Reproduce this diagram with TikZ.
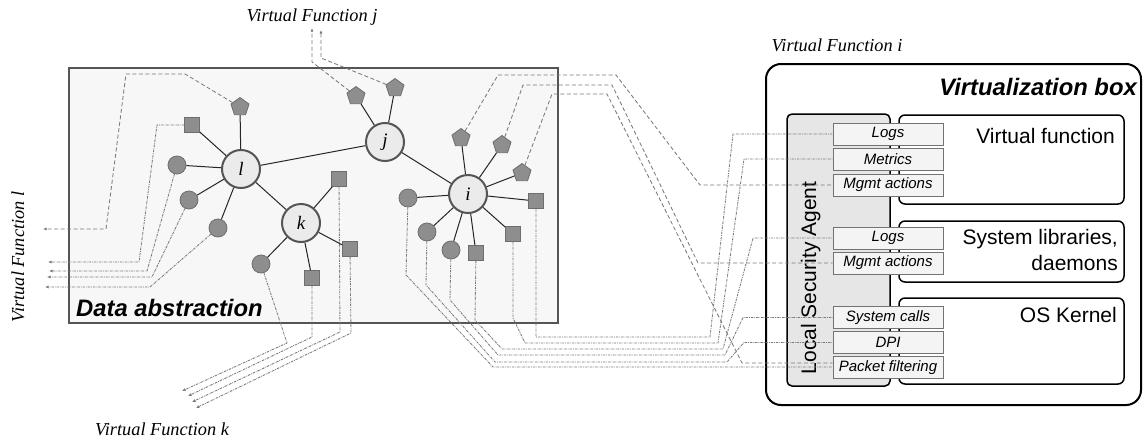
\documentclass[tikz,border=0pt]{standalone}
\usepackage{fontspec}
\setmainfont{Liberation Serif}
\setsansfont{Liberation Sans}
\usetikzlibrary{shapes.geometric,arrows.meta}
\definecolor{leaf}{HTML}{8E8E8E}
\definecolor{leafb}{HTML}{6E6E6E}
\definecolor{hubf}{HTML}{EBEBEB}
\definecolor{hubb}{HTML}{555555}
\definecolor{conn}{HTML}{7A7A7A}
\definecolor{boxf}{HTML}{F7F7F7}
\definecolor{lsaf}{HTML}{E6E6E6}
\definecolor{smallf}{HTML}{F4F4F4}
\begin{document}
\begin{tikzpicture}[x=1pt,y=-1pt,
  hub/.style={circle,draw=hubb,fill=hubf,line width=2pt,minimum size=38pt,inner sep=0pt,font=\fontsize{19}{21}\selectfont\itshape},
  lcirc/.style={circle,draw=leafb,fill=leaf,line width=0.8pt,minimum size=18pt,inner sep=0pt},
  lsq/.style={rectangle,draw=leafb,fill=leaf,line width=0.8pt,minimum size=15pt,inner sep=0pt},
  lpent/.style={regular polygon,regular polygon sides=5,draw=leafb,fill=leaf,line width=0.8pt,minimum size=19pt,inner sep=0pt},
  hedge/.style={line width=1pt,black!85},
  cdash/.style={conn,line width=0.85pt,dash pattern=on 4pt off 2.5pt},
  cdot/.style={conn,line width=0.85pt,dash pattern=on 2.5pt off 1pt on 0.7pt off 1pt},
  tip/.style={-{Latex[length=3.5pt,width=3pt]}},
  sbox/.style={rectangle,draw=black!55,fill=smallf,line width=0.8pt,minimum width=110pt,minimum height=22pt,inner sep=0pt,font=\sffamily\itshape\fontsize{15}{17}\selectfont},
  vflabel/.style={font=\fontsize{18.3}{20}\selectfont\itshape,inner sep=0pt,anchor=base},
  big/.style={font=\sffamily\fontsize{21}{24}\selectfont,inner sep=0pt,anchor=base east},
  bolder/.style={font=\sffamily\bfseries\itshape\fontsize{23.8}{27}\selectfont,inner sep=0pt},
]
\useasboundingbox (0,0) rectangle (1144,442);

% ---------- Data abstraction box ----------
\draw[draw=hubb,line width=1.5pt,fill=boxf] (69,68) rectangle (558,323);
\node[bolder,anchor=base west] (dalabel) at (76,316) {Data abstraction};

% ---------- Virtualization box ----------
\draw[rounded corners=15pt,line width=2pt,fill=white] (766,64) rectangle (1141,405);
\node[bolder,anchor=base east] (vblabel) at (1137,95) {Virtualization box};
\draw[rounded corners=5pt,line width=1.5pt,fill=lsaf] (787,114) rectangle (890,386);
\draw[rounded corners=6pt,line width=1.5pt,fill=white] (899,115) rectangle (1124,204);
\draw[rounded corners=6pt,line width=1.5pt,fill=white] (899,221) rectangle (1124,282);
\draw[rounded corners=6pt,line width=1.5pt,fill=white] (899,298) rectangle (1124,384);
\node[big] (vft) at (1115,143) {Virtual function};
\node[big] (slt) at (1118,244) {System libraries,};
\node[big] (dmt) at (1118,270) {daemons};
\node[big] (ost) at (1117,322) {OS Kernel};
\node[font=\sffamily\fontsize{21}{24}\selectfont,inner sep=0pt,anchor=base,rotate=90] (lsat) at (816,278) {Local Security Agent};

\node[sbox] (logsA) at (888,134) {Logs};
\node[sbox] (metr) at (888,159) {Metrics};
\node[sbox] (mgmtA) at (888,185) {Mgmt actions};
\node[sbox] (logsB) at (888,238) {Logs};
\node[sbox] (mgmtB) at (888,263) {Mgmt actions};
\node[sbox] (sysc) at (888,317.5) {System calls};
\node[sbox] (dpi) at (888,342.5) {DPI};
\node[sbox] (pf) at (888,367.5) {Packet filtering};

% ---------- labels ----------
\node[vflabel] (vfj) at (312,21) {Virtual Function j};
\node[vflabel] (vfi) at (837,51) {Virtual Function i};
\node[vflabel] (vfk) at (162,435) {Virtual Function k};
\node[vflabel,rotate=90] (vfl) at (24,257) {Virtual Function l};

% ---------- hubs ----------
\node[hub] (l) at (241,169) {l};
\node[hub] (j) at (385,142) {j};
\node[hub] (i) at (468,194) {i};
\node[hub] (k) at (301,223) {k};

% leaves of l
\node[lpent] (lp) at (240,107) {};
\node[lsq] (ls) at (192,125) {};
\node[lcirc] (lc1) at (177,165) {};
\node[lcirc] (lc2) at (189,200) {};
\node[lcirc] (lc3) at (218,228) {};
% leaves of j
\node[lpent] (jp1) at (356,96) {};
\node[lpent] (jp2) at (395,88) {};
% leaves of k
\node[lsq] (ks1) at (339,179) {};
\node[lsq] (ks2) at (350,249) {};
\node[lsq] (ks3) at (312,278) {};
\node[lcirc] (kc) at (261,264) {};
% leaves of i
\node[lpent] (ip1) at (461,138) {};
\node[lpent] (ip2) at (502,145) {};
\node[lpent] (ip3) at (522,173) {};
\node[lsq] (is1) at (536,201) {};
\node[lsq] (is2) at (513,234) {};
\node[lsq] (is3) at (476,253) {};
\node[lcirc] (ic3) at (451,250) {};
\node[lcirc] (ic2) at (427,232) {};
\node[lcirc] (ic1) at (408,198) {};

% free ends
\coordinate (el1) at (43,229);
\coordinate (el2) at (48,262);
\coordinate (el3) at (49,271);
\coordinate (el4) at (47,277);
\coordinate (el5) at (45,287);
\coordinate (ej1) at (312,28);
\coordinate (ej2) at (321,30);
\coordinate (ek1) at (182,391);
\coordinate (ek2) at (188,396);
\coordinate (ek3) at (192,402);
\coordinate (ek4) at (196,408);

% ---------- connectors ----------
\draw[cdash,tip] (lp) -- (185,74) -- (126,74) -- (106,229) -- (el1);
\draw[cdot,tip] (ls) -- (157,125) -- (139,262) -- (el2);
\draw[cdot,tip] (lc1) -- (147,271) -- (el3);
\draw[cdot,tip] (lc2) -- (152,277) -- (el4);
\draw[cdot,tip] (lc3) -- (150,287) -- (el5);

\draw[cdash,tip] (jp1) -- (312,62) -- (ej1);
\draw[cdash,tip] (jp2) -- (321,58) -- (ej2);

\draw[cdot,tip] (kc) -- (287,343) -- (ek1);
\draw[cdot,tip] (ks3) -- (312,337) -- (ek2);
\draw[cdot,tip] (ks1) -- (340,332) -- (ek3);
\draw[cdot,tip] (ks2) -- (351,333) -- (ek4);

\draw[cdash] (ip1) -- (498,75) -- (616,75) -- (700,185) -- (mgmtA.west);
\draw[cdash] (ip2) -- (523,85) -- (612,85) -- (698,263) -- (mgmtB.west);
\draw[cdash] (ip3) -- (552,94) -- (607,94) -- (742,363) -- ([yshift=4.5pt]pf.west);
\draw[cdot] (is1) -- (536,337) -- (710,337) -- (733,134) -- (logsA.west);
\draw[cdot] (is2) -- (513,318) -- (525,343) -- (718,343) -- (744,159) -- (metr.west);
\draw[cdot] (is3) -- (475,320) -- (502,349) -- (723,349) -- (753,238) -- (logsB.west);
\draw[cdot] (ic3) -- (450,300) -- (498,355) -- (725,355) -- (743,317.5) -- (sysc.west);
\draw[cdot] (ic2) -- (426,285) -- (495,362) -- (727,362) -- (744,342.5) -- (dpi.west);
\draw[cdot] (ic1) -- (406,275) -- (493,367) -- ([yshift=0.5pt]pf.west);

% ---------- hub edges ----------
\draw[hedge] (l) -- (j);
\draw[hedge] (j) -- (i);
\draw[hedge] (l) -- (k);
\foreach \n in {lp,ls,lc1,lc2,lc3} \draw[hedge] (l) -- (\n);
\foreach \n in {jp1,jp2} \draw[hedge] (j) -- (\n);
\foreach \n in {ks1,ks2,ks3,kc} \draw[hedge] (k) -- (\n);
\foreach \n in {ip1,ip2,ip3,is1,is2,is3,ic1,ic2,ic3} \draw[hedge] (i) -- (\n);

\end{tikzpicture}
\end{document}
